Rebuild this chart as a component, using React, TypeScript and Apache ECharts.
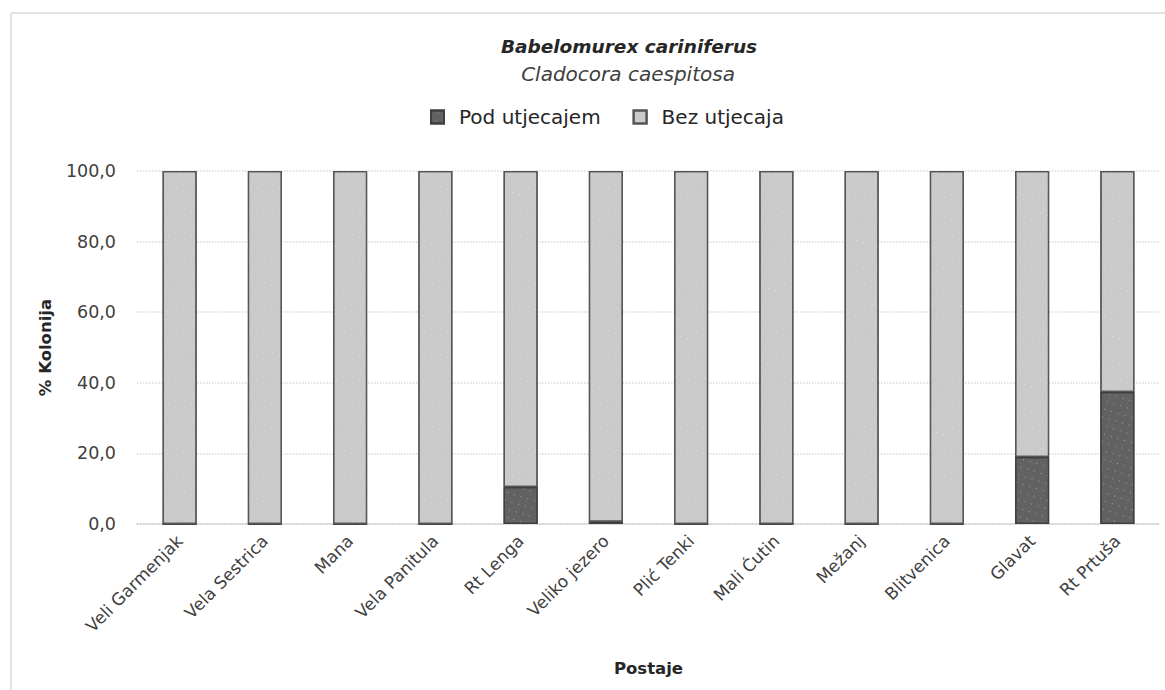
import React, { useEffect, useRef } from "react";
import * as echarts from "echarts";

const categories = [
  "Veli Garmenjak",
  "Vela Sestrica",
  "Mana",
  "Vela Panitula",
  "Rt Lenga",
  "Veliko jezero",
  "Plić Tenki",
  "Mali Ćutin",
  "Mežanj",
  "Blitvenica",
  "Glavat",
  "Rt Prtuša",
];
const podUtjecajem = [0, 0, 0, 0, 10.5, 0.6, 0, 0, 0, 0, 19.0, 37.4];
const bezUtjecaja = [100, 100, 100, 100, 89.5, 99.4, 100, 100, 100, 100, 81.0, 62.6];
const yTicks = [0, 20, 40, 60, 80, 100];
const titleText = "Babelomurex cariniferus";
const subtitleText = "Cladocora caespitosa";

const FONT = "'DejaVu Sans', Verdana, sans-serif";

export default function App() {
  const ref = useRef<HTMLDivElement>(null);
  useEffect(() => {
    if (!ref.current) return;
    const chart = echarts.init(ref.current, null, { renderer: "svg" });
    const decal = {
      symbol: "rect",
      symbolSize: 1,
      color: "rgba(255,255,255,0.4)",
      dashArrayX: [1, 6],
      dashArrayY: [1, 7],
      rotation: 0.3,
    };
    chart.setOption({
      animation: false,
      backgroundColor: "#ffffff",
      textStyle: { fontFamily: FONT },
      legend: {
        top: 102,
        left: 425,
        itemWidth: 13,
        itemHeight: 13,
        itemGap: 32,
        icon: "rect",
        textStyle: { fontFamily: FONT, fontSize: 20, color: "#262626", padding: [0, 0, 0, 10] },
        data: ["Pod utjecajem", "Bez utjecaja"],
      },
      graphic: [
        { type: "line", shape: { x1: 11, y1: 13, x2: 1165, y2: 13 }, style: { stroke: "#d9d9d9", lineWidth: 1.5 } },
        { type: "line", shape: { x1: 11, y1: 13, x2: 11, y2: 690 }, style: { stroke: "#d9d9d9", lineWidth: 1.5 } },
        {
          type: "text",
          x: 629,
          y: 46,
          style: {
            text: titleText,
            fontFamily: FONT,
            fontSize: 18.5,
            fontWeight: "bold",
            fontStyle: "italic",
            fill: "#262626",
            textAlign: "center",
            textVerticalAlign: "middle",
          },
        },
        {
          type: "text",
          x: 628,
          y: 74,
          style: {
            text: subtitleText,
            fontFamily: FONT,
            fontSize: 20,
            fontStyle: "italic",
            fill: "#404040",
            textAlign: "center",
            textVerticalAlign: "middle",
          },
        },
      ],
      grid: { left: 137, right: 5, top: 171, bottom: 166 },
      xAxis: {
        type: "category",
        data: categories,
        name: "Postaje",
        nameLocation: "middle",
        nameGap: 144,
        nameTextStyle: { fontFamily: FONT, fontSize: 16.5, fontWeight: "bold", color: "#262626", verticalAlign: "middle" },
        axisTick: { show: false },
        axisLine: { show: true, lineStyle: { color: "#d0d0d0", type: "dotted", width: 1.5 } },
        axisLabel: {
          rotate: 45,
          interval: 0,
          margin: 14,
          fontFamily: FONT,
          fontSize: 17,
          color: "#404040",
        },
      },
      yAxis: {
        type: "value",
        min: 0,
        max: 100,
        interval: 20,
        name: "% Kolonija",
        nameLocation: "middle",
        nameGap: 92,
        nameTextStyle: { fontFamily: FONT, fontSize: 16.5, fontWeight: "bold", color: "#262626", verticalAlign: "middle" },
        axisLine: { show: false },
        axisTick: { show: false },
        splitLine: { show: true, lineStyle: { color: "#d9d9d9", type: "dotted", width: 1.5 } },
        axisLabel: {
          margin: 21,
          fontFamily: FONT,
          fontSize: 17.5,
          color: "#404040",
          formatter: (v: number) => (yTicks.includes(v) ? v.toFixed(1).replace(".", ",") : ""),
        },
      },
      series: [
        {
          name: "Pod utjecajem",
          type: "bar",
          stack: "total",
          barWidth: "40%",
          data: podUtjecajem,
          itemStyle: { color: "#626262", borderColor: "#3f3f3f", borderWidth: 1.3, decal },
        },
        {
          name: "Bez utjecaja",
          type: "bar",
          stack: "total",
          barWidth: "40%",
          data: bezUtjecaja,
          itemStyle: { color: "#cacaca", borderColor: "#555555", borderWidth: 1.3, decal },
        },
      ],
    });
    return () => chart.dispose();
  }, []);
  return <div ref={ref} style={{ width: 1165, height: 690, position: "absolute", left: 0, top: 0 }} />;
}
